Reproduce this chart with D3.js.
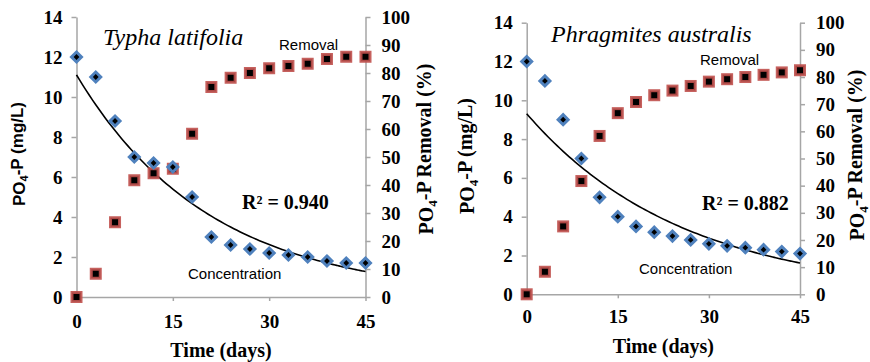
<!DOCTYPE html>
<html><head><meta charset="utf-8">
<script src="https://cdn.jsdelivr.net/npm/d3@7"></script>
<style>body{margin:0;background:#fff} svg{display:block}</style>
</head><body>
<svg id="c" width="870" height="362"></svg>
<script>
// ---- data ----
const days = [0,3,6,9,12,15,18,21,24,27,30,33,36,39,42,45];
const typhaConc = [12,11,8.8,7,6.7,6.5,5,3,2.6,2.4,2.2,2.1,2.0,1.8,1.7,1.7];
const typhaRemoval = [0,8.3,26.7,41.7,44.2,45.8,58.3,75,78.3,80,81.7,82.5,83.3,85,85.8,85.8];
const phragConc = [12,11,9,7,5,4,3.5,3.2,3.0,2.8,2.6,2.5,2.4,2.3,2.2,2.1];
const phragRemoval = [0,8.3,25,41.7,58.3,66.7,70.8,73.3,75,76.7,78.3,79.2,80,80.8,81.7,82.5];
const xTicks = [0,15,30,45];
const concTicks = [0,2,4,6,8,10,12,14];
const removalTicks = [0,10,20,30,40,50,60,70,80,90,100];
const speciesNames = ["Typha latifolia","Phragmites australis"];
const r2Labels = ["R\u00b2 = 0.940","R\u00b2 = 0.882"];
const seriesLabels = ["Removal","Concentration"];

const SERIF = "'Liberation Serif','Times New Roman',serif";
const SANS = "'Liberation Sans',Arial,sans-serif";
const AXIS_COLOR = "#a6a6a6";
const BLUE = "#4f81bd";
const RED = "#c0504d";

// exponential least-squares fit (Excel style: ln y on x)
function expFit(xs, ys){
  const n = xs.length;
  const ly = ys.map(Math.log);
  const mx = d3.mean(xs), my = d3.mean(ly);
  let sxy=0, sxx=0;
  for(let i=0;i<n;i++){ sxy+=(xs[i]-mx)*(ly[i]-my); sxx+=(xs[i]-mx)**2; }
  const b = sxy/sxx, a = Math.exp(my - b*mx);
  return x => a*Math.exp(b*x);
}

const svg = d3.select("#c");

const panels = [
  {conc: typhaConc, rem: typhaRemoval, name: speciesNames[0], r2: r2Labels[0],
   x0:76.5, x1:365.5, yTop:17, yBot:297, leftFont:SANS, leftSize:17,
   leftTitleX:19, leftTitleY:154, rightTitleX:426, rightTitleY:149,
   nameX:103, nameY:45, remX:279, remY:50, concX:188, concY:279, r2X:242, r2Y:209,
   xLabY:328, timeY:357},
  {conc: phragConc, rem: phragRemoval, name: speciesNames[1], r2: r2Labels[1],
   x0:526.7, x1:800, yTop:22.7, yBot:294.3, leftFont:SERIF, leftSize:20,
   leftTitleX:467, leftTitleY:156, rightTitleX:857, rightTitleY:155,
   nameX:551, nameY:42, remX:700, remY:65, concX:639, concY:274, r2X:702, r2Y:210,
   xLabY:323, timeY:353}
];

panels.forEach(p => {
  const g = svg.append("g");
  const x = d3.scaleLinear().domain([0,45]).range([p.x0,p.x1]);
  const yC = d3.scaleLinear().domain([0,14]).range([p.yBot,p.yTop]);
  const yR = d3.scaleLinear().domain([0,100]).range([p.yBot,p.yTop]);

  const styleAxis = sel => {
    sel.select(".domain").attr("stroke",AXIS_COLOR).attr("stroke-width",1.5);
    sel.selectAll(".tick line").attr("stroke",AXIS_COLOR).attr("stroke-width",1.5);
    sel.selectAll(".tick text").attr("fill","#000").style("font-family",SERIF)
      .style("font-weight","bold").style("font-size","19px");
  };

  // x axis
  const xa = g.append("g").attr("transform",`translate(0,${p.yBot})`)
    .call(d3.axisBottom(x).tickValues(xTicks).tickSize(4).tickSizeOuter(0)
      .tickPadding(p.xLabY - p.yBot - 4 - 13.5).tickFormat(d3.format("d")));
  styleAxis(xa);

  // left axis
  const la = g.append("g").attr("transform",`translate(${p.x0},0)`)
    .call(d3.axisLeft(yC).tickValues(concTicks).tickSize(5).tickSizeOuter(0)
      .tickPadding(9).tickFormat(d3.format("d")));
  styleAxis(la);

  // right axis
  const ra = g.append("g").attr("transform",`translate(${p.x1},0)`)
    .call(d3.axisRight(yR).tickValues(removalTicks).tickSize(5).tickSizeOuter(0)
      .tickPadding(11).tickFormat(d3.format("d")));
  styleAxis(ra);

  // trendline
  const f = expFit(days, p.conc);
  const line = d3.line().x(d=>x(d)).y(d=>yC(f(d))).curve(d3.curveMonotoneX);
  g.append("path").datum(d3.range(0,45.01,0.5)).attr("d",line)
    .attr("fill","none").attr("stroke","#000").attr("stroke-width",1.6);

  // removal squares
  g.selectAll(".rem").data(days).enter().append("rect")
    .attr("x",(d)=>x(d)-4.5).attr("y",(d,i)=>yR(p.rem[i])-4.5)
    .attr("width",9).attr("height",9)
    .attr("fill","#000").attr("stroke",RED).attr("stroke-width",3).attr("stroke-opacity",0.9);

  // concentration diamonds
  g.selectAll(".conc").data(days).enter().append("path")
    .attr("transform",(d,i)=>`translate(${x(d)},${yC(p.conc[i])}) rotate(45)`)
    .attr("d", d3.symbol().type(d3.symbolSquare).size(50))
    .attr("fill","#000").attr("stroke",BLUE).attr("stroke-width",3);

  // texts
  g.append("text").attr("x",p.nameX).attr("y",p.nameY).text(p.name)
    .style("font-family",SERIF).style("font-style","italic").style("font-size","24px");
  g.append("text").attr("x",p.remX).attr("y",p.remY).text(seriesLabels[0])
    .style("font-family",SANS).style("font-size","15px");
  g.append("text").attr("x",p.concX).attr("y",p.concY).text(seriesLabels[1])
    .style("font-family",SANS).style("font-size","15px");
  g.append("text").attr("x",p.r2X).attr("y",p.r2Y).text(p.r2)
    .style("font-family",SERIF).style("font-weight","bold").style("font-size","20px");
  g.append("text").attr("x",(p.x0+p.x1)/2).attr("y",p.timeY).attr("text-anchor","middle")
    .text("Time (days)")
    .style("font-family",SERIF).style("font-weight","bold").style("font-size","20px");

  // left title
  const lt = g.append("text").attr("transform",`translate(${p.leftTitleX},${p.leftTitleY}) rotate(-90)`)
    .attr("text-anchor","middle").attr("dy","0.35em")
    .style("font-family",p.leftFont).style("font-weight","bold").style("font-size",p.leftSize+"px");
  lt.append("tspan").text("PO");
  lt.append("tspan").text("4").attr("dy","0.3em").style("font-size",(p.leftSize*0.65)+"px");
  lt.append("tspan").text("-P (mg/L)").attr("dy","-0.3em");

  const rt = g.append("text").attr("transform",`translate(${p.rightTitleX},${p.rightTitleY}) rotate(-90)`)
    .attr("text-anchor","middle").attr("dy","0.35em")
    .style("font-family",SERIF).style("font-weight","bold").style("font-size","20px");
  rt.append("tspan").text("PO");
  rt.append("tspan").text("4").attr("dy","0.3em").style("font-size","13px");
  rt.append("tspan").text("-P Removal (%)").attr("dy","-0.3em");
});
</script>
</body></html>
